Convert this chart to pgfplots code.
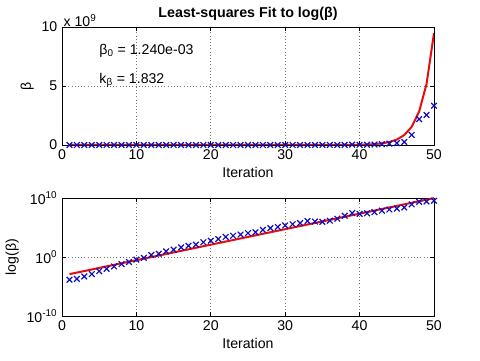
\documentclass[border=0pt]{standalone}
\usepackage{fontspec}
\setmainfont{Liberation Sans}
\usepackage{pgfplots}
\usepackage{pgfplotstable}
\pgfplotsset{compat=1.18}
\definecolor{mblue}{rgb}{0.05,0.05,0.75}
\definecolor{mred}{rgb}{0.9,0.05,0.05}

% iteration, measured beta, least-squares fit
\pgfplotstableread{
i beta fit
1 1.41e-4 1.240e-3
2 2.0e-4 2.272e-3
3 5.0e-4 4.16e-3
4 1.26e-3 7.62e-3
5 3.98e-3 1.396e-2
6 1.0e-2 2.558e-2
7 2.51e-2 4.69e-2
8 6.31e-2 8.59e-2
9 0.141 0.1574
10 0.355 0.2884
11 0.708 0.5284
12 2.24 0.968
13 3.55 1.774
14 8.91 3.25
15 17.4 5.96
16 42.7 10.9
17 79.4 19.95
18 126 36.6
19 316 67.0
20 575 122.7
21 1120 224.9
22 2510 412
23 3980 755
24 6310 1383
25 11200 2535
26 15800 4645
27 39800 8511
28 79400 15570
29 126000 28510
30 224000 52240
31 355000 95700
32 562000 175400
33 1.26e6 321400
34 1.0e6 588800
35 8.91e5 1.079e6
36 1.41e6 1.977e6
37 3.16e6 3.622e6
38 1.0e7 6.637e6
39 2.82e7 1.216e7
40 2.0e7 2.228e7
41 2.51e7 4.083e7
42 3.98e7 7.464e7
43 7.08e7 1.368e8
44 1.12e8 2.506e8
45 1.58e8 4.592e8
46 2.51e8 8.414e8
47 8.5e8 1.542e9
48 2.2e9 2.825e9
49 2.54e9 5.176e9
50 3.33e9 9.484e9
}\betadata

\begin{document}
\begin{tikzpicture}
\path (0pt,0pt) rectangle (360pt,270.75pt);
\pgfplotsset{
  mstyle/.style={
    scale only axis, width=279pt, height=88.5pt,
    xmin=0, xmax=50, xtick={0,10,20,30,40,50},
    font=\fontsize{10.6}{12}\selectfont,
    /pgf/number format/assume math mode=true,
    grid=major, grid style={black!55, dotted, line width=0.5pt},
    axis line style={line width=0.6pt},
    tick style={black, line width=0.5pt},
    major tick length=3pt,
    xlabel={Iteration},
    xlabel style={yshift=1.5pt},
    ylabel style={yshift=-1pt},
    clip=true,
  },
}
\begin{axis}[mstyle, at={(46.5pt,162pt)}, anchor=south west,
  ymin=0, ymax=1e10, ytick={0,5e9,1e10},
  scaled y ticks=base 10:-9,
  ytick scale label code/.code={x 10\textsuperscript{9}},
  every y tick scale label/.style={at={(rel axis cs:0,1)}, anchor=south west, inner sep=1pt, yshift=-1pt},
  ylabel={β},
  title={\bfseries Least-squares Fit to log(β)},
  title style={font=\fontsize{10.7}{12}\selectfont, yshift=-5pt},
]
\addplot[mred, line width=1.5pt, no markers] table[x=i, y=fit] {\betadata};
\addplot[mblue, only marks, mark=x, mark size=3pt, mark options={line width=0.9pt}] table[x=i, y=beta] {\betadata};
\node[anchor=west, inner sep=0pt] at (axis cs:5,8e9) {β\textsubscript{0} = 1.240e-03};
\node[anchor=west, inner sep=0pt] at (axis cs:5,5.5e9) {k\textsubscript{β} = 1.832};
\end{axis}
\begin{axis}[mstyle, at={(46.5pt,33.75pt)}, anchor=south west,
  ymode=log, ymin=1e-10, ymax=1e10, ytick={1e-10,1,1e10},
  yticklabels={10\textsuperscript{-10}, 10\textsuperscript{0}, 10\textsuperscript{10}},
  yminorticks=false,
  ylabel={log(β)},
]
\addplot[mred, line width=1.5pt, no markers] table[x=i, y=fit] {\betadata};
\addplot[mblue, only marks, mark=x, mark size=3pt, mark options={line width=0.9pt}] table[x=i, y=beta] {\betadata};
\end{axis}
\end{tikzpicture}
\end{document}
